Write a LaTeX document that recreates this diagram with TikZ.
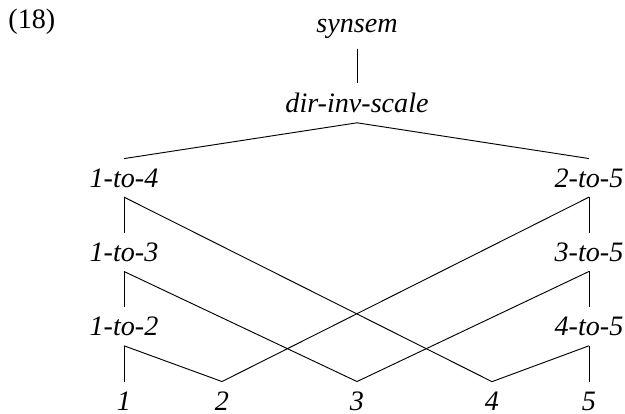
\documentclass[tikz,border=0pt]{standalone}
\usepackage{fontspec}
\setmainfont{Liberation Serif}[ItalicFont={Liberation Serif Italic}]

\tikzset{
  lbl/.style={font=\fontsize{12}{14}\selectfont\itshape, inner sep=4pt, anchor=base},
  exnum/.style={font=\fontsize{12}{14}\selectfont, inner sep=0pt, anchor=base west}
}

\begin{document}
\begin{tikzpicture}
  \useasboundingbox (0,0) rectangle (9.375,-6.195);

  % Example number
  \node[exnum] (num) at (0.12,-0.42) {(18)};

  % Top of the hierarchy
  \node[lbl] (synsem) at (5.355,-0.49) {synsem};
  \node[lbl] (dis) at (5.355,-1.69) {dir-inv-scale};

  % Left column
  \node[lbl] (lfour) at (1.86,-2.805) {1-to-4};
  \node[lbl] (lthree) at (1.86,-3.92) {1-to-3};
  \node[lbl] (ltwo) at (1.86,-5.035) {1-to-2};

  % Right column
  \node[lbl] (rtwo) at (8.835,-2.805) {2-to-5};
  \node[lbl] (rthree) at (8.835,-3.92) {3-to-5};
  \node[lbl] (rfour) at (8.835,-5.035) {4-to-5};

  % Leaves
  \node[lbl] (n1) at (1.86,-6.15) {1};
  \node[lbl] (n2) at (3.33,-6.15) {2};
  \node[lbl] (n3) at (5.355,-6.15) {3};
  \node[lbl] (n4) at (7.38,-6.15) {4};
  \node[lbl] (n5) at (8.835,-6.15) {5};

  % Upper links
  \draw (synsem.south) -- (dis.north);
  \draw (dis.south) -- (lfour.north);
  \draw (dis.south) -- (rtwo.north);

  % Left chain
  \draw (lfour.south) -- (lthree.north);
  \draw (lthree.south) -- (ltwo.north);
  \draw (lfour.south) -- (n4.north);
  \draw (lthree.south) -- (n3.north);
  \draw (ltwo.south) -- (n1.north);
  \draw (ltwo.south) -- (n2.north);

  % Right chain
  \draw (rtwo.south) -- (rthree.north);
  \draw (rthree.south) -- (rfour.north);
  \draw (rtwo.south) -- (n2.north);
  \draw (rthree.south) -- (n3.north);
  \draw (rfour.south) -- (n4.north);
  \draw (rfour.south) -- (n5.north);
\end{tikzpicture}
\end{document}
